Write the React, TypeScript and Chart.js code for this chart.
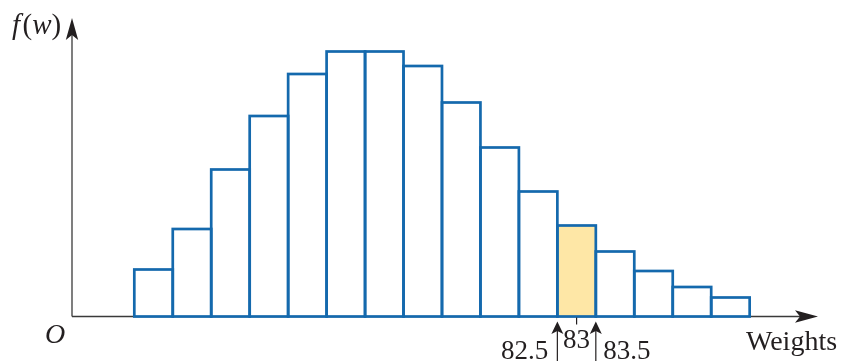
import React, { useEffect, useRef } from "react";
import { Chart, registerables } from "chart.js";

Chart.register(...registerables);

// Data
const weights = [72, 73, 74, 75, 76, 77, 78, 79, 80, 81, 82, 83, 84, 85, 86, 87];
const freq = [4.7, 8.75, 14.7, 20.05, 24.25, 26.5, 26.5, 25.05, 21.4, 16.9, 12.5, 9.1, 6.5, 4.55, 2.95, 1.9];
const highlightWeight = 83;
const markerValues = [82.5, 83, 83.5];
const markerLabels = ["82.5", "83", "83.5"];
const xTitle = "Weights";
const originLabel = "O";

const BLUE = "#1469ad";
const FILL_HI = "#fee7a6";
const INK = "#231f20";
const SERIF = '"Liberation Serif", "DejaVu Serif", serif';

function arrowHead(ctx: CanvasRenderingContext2D, tx: number, ty: number, dir: "up" | "right", len: number, half: number, notch: number) {
  ctx.beginPath();
  if (dir === "up") {
    ctx.moveTo(tx, ty);
    ctx.lineTo(tx + half, ty + len);
    ctx.lineTo(tx, ty + notch);
    ctx.lineTo(tx - half, ty + len);
  } else {
    ctx.moveTo(tx, ty);
    ctx.lineTo(tx - len, ty - half);
    ctx.lineTo(tx - notch, ty);
    ctx.lineTo(tx - len, ty + half);
  }
  ctx.closePath();
  ctx.fill();
}

const decorPlugin = {
  id: "decor",
  beforeDatasetsDraw(chart: any) {
    const ctx = chart.ctx as CanvasRenderingContext2D;
    const xs = chart.scales.x;
    const ys = chart.scales.y;
    const x0 = xs.getPixelForValue(xs.min);
    const y0 = ys.getPixelForValue(0);
    ctx.save();
    ctx.strokeStyle = "#3a3a3a";
    ctx.fillStyle = INK;
    ctx.lineWidth = 1.3;
    // y axis
    ctx.beginPath();
    ctx.moveTo(x0, y0);
    ctx.lineTo(x0, 32);
    ctx.stroke();
    arrowHead(ctx, x0, 18, "up", 22, 6.2, 17);
    // x axis
    ctx.beginPath();
    ctx.moveTo(x0, y0);
    ctx.lineTo(805, y0);
    ctx.stroke();
    arrowHead(ctx, 818, y0, "right", 23, 6.2, 18);
    ctx.restore();
  },
  afterDatasetsDraw(chart: any) {
    const ctx = chart.ctx as CanvasRenderingContext2D;
    const meta = chart.getDatasetMeta(0);
    ctx.save();
    ctx.strokeStyle = BLUE;
    ctx.lineWidth = 2.7;
    ctx.lineJoin = "miter";
    meta.data.forEach((el: any) => {
      const p = el.getProps(["x", "y", "base", "width"], true);
      ctx.strokeRect(p.x - p.width / 2, p.y, p.width, p.base - p.y);
    });
    ctx.restore();
  },
  afterDraw(chart: any) {
    const ctx = chart.ctx as CanvasRenderingContext2D;
    const xs = chart.scales.x;
    const ys = chart.scales.y;
    const y0 = ys.getPixelForValue(0);
    ctx.save();
    ctx.fillStyle = INK;
    ctx.strokeStyle = INK;
    ctx.textBaseline = "alphabetic";

    // f(w) label
    let cx = 12;
    const parts: [string, boolean][] = [["f", true], ["(", false], ["w", true], [")", false]];
    parts.forEach(([t, it]) => {
      ctx.font = `${it ? "italic " : ""}29px ${SERIF}`;
      ctx.fillText(t, cx, 33.5);
      cx += ctx.measureText(t).width + (t === "f" ? 2.5 : 0);
    });

    // origin
    ctx.font = `italic 28px ${SERIF}`;
    ctx.fillText(originLabel, 45, 342.5);

    // x title
    ctx.font = `28px ${SERIF}`;
    ctx.fillText(xTitle, 746, 350);

    // markers
    const pLo = xs.getPixelForValue(markerValues[0]);
    const pMid = xs.getPixelForValue(markerValues[1]);
    const pHi = xs.getPixelForValue(markerValues[2]);
    ctx.lineWidth = 1.2;
    [pLo, pHi].forEach((px) => {
      ctx.beginPath();
      ctx.moveTo(px, 328);
      ctx.lineTo(px, 361);
      ctx.stroke();
      arrowHead(ctx, px, y0 + 5, "up", 12.5, 6, 9.5);
    });
    ctx.beginPath();
    ctx.moveTo(pMid, y0 + 1);
    ctx.lineTo(pMid, y0 + 8);
    ctx.stroke();

    ctx.font = `27px ${SERIF}`;
    ctx.textAlign = "right";
    ctx.fillText(markerLabels[0], pLo - 9, 358.5);
    ctx.textAlign = "center";
    ctx.fillText(markerLabels[1], pMid, 347.5);
    ctx.textAlign = "left";
    ctx.fillText(markerLabels[2], pHi + 7.5, 358.5);
    ctx.restore();
  },
};

export default function App() {
  const ref = useRef<HTMLCanvasElement | null>(null);
  useEffect(() => {
    if (!ref.current) return;
    const chart = new Chart(ref.current, {
      type: "bar",
      data: {
        datasets: [
          {
            data: weights.map((w, i) => ({ x: w, y: freq[i] })),
            backgroundColor: weights.map((w) => (w === highlightWeight ? FILL_HI : "#ffffff")),
            borderWidth: 0,
            barPercentage: 1,
            categoryPercentage: 1,
          },
        ],
      },
      options: {
        animation: false,
        responsive: false,
        devicePixelRatio: 1,
        layout: { padding: { left: 72, right: 26, top: 16.5, bottom: 44.5 } },
        scales: {
          x: { type: "linear", display: false, min: 69.88, max: 89.277, offset: false },
          y: { type: "linear", display: false, min: 0, max: 30 },
        },
        plugins: { legend: { display: false }, tooltip: { enabled: false } },
      },
      plugins: [decorPlugin],
    });
    return () => chart.destroy();
  }, []);
  return (
    <div style={{ position: "fixed", left: 0, top: 0, width: 844, height: 361, background: "#fff" }}>
      <canvas ref={ref} width={844} height={361} style={{ display: "block" }} />
    </div>
  );
}
